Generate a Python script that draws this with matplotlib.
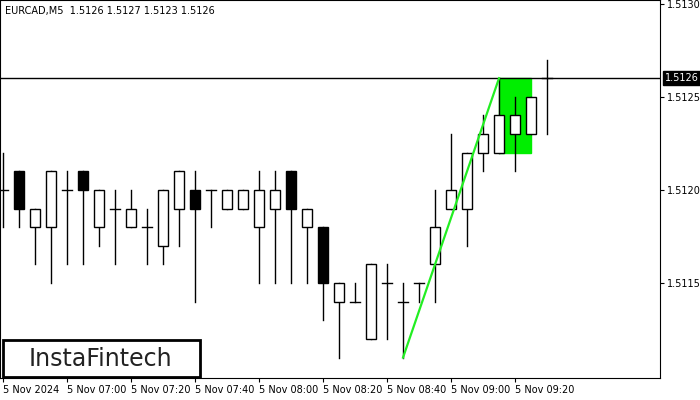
import matplotlib
matplotlib.use('Agg')
import matplotlib.pyplot as plt
from matplotlib.patches import Rectangle

# candles: open, high, low, close
opens  = [1.5120, 1.5121, 1.5118, 1.5118, 1.5120, 1.5121, 1.5118, 1.5119, 1.5118, 1.5118,
          1.5117, 1.5119, 1.5120, 1.5120, 1.5119, 1.5119, 1.5118, 1.5119, 1.5121, 1.5118,
          1.5118, 1.5114, 1.5114, 1.5112, 1.5115, 1.5114, 1.5115, 1.5116, 1.5119, 1.5119,
          1.5122, 1.5122, 1.5123, 1.5123, 1.5126]
highs  = [1.5122, 1.5121, 1.5119, 1.5121, 1.5121, 1.5121, 1.5120, 1.5120, 1.5120, 1.5119,
          1.5120, 1.5121, 1.5121, 1.5120, 1.5120, 1.5120, 1.5121, 1.5121, 1.5121, 1.5119,
          1.5118, 1.5115, 1.5115, 1.5116, 1.5116, 1.5115, 1.5115, 1.5120, 1.5123, 1.5122,
          1.5124, 1.5126, 1.5125, 1.5125, 1.5127]
lows   = [1.5118, 1.5118, 1.5116, 1.5115, 1.5116, 1.5116, 1.5117, 1.5116, 1.5118, 1.5116,
          1.5116, 1.5117, 1.5114, 1.5118, 1.5119, 1.5119, 1.5115, 1.5115, 1.5115, 1.5115,
          1.5113, 1.5111, 1.5114, 1.5112, 1.5112, 1.5111, 1.5114, 1.5114, 1.5119, 1.5117,
          1.5121, 1.5122, 1.5121, 1.5123, 1.5123]
closes = [1.5120, 1.5119, 1.5119, 1.5121, 1.5120, 1.5120, 1.5120, 1.5119, 1.5119, 1.5118,
          1.5120, 1.5121, 1.5119, 1.5120, 1.5120, 1.5120, 1.5120, 1.5120, 1.5119, 1.5119,
          1.5115, 1.5115, 1.5114, 1.5116, 1.5115, 1.5114, 1.5115, 1.5118, 1.5120, 1.5122,
          1.5123, 1.5124, 1.5124, 1.5125, 1.5126]
xlabels = ['5 Nov 2024', '5 Nov 07:00', '5 Nov 07:20', '5 Nov 07:40', '5 Nov 08:00',
           '5 Nov 08:20', '5 Nov 08:40', '5 Nov 09:00', '5 Nov 09:20']
yticks = [1.5115, 1.5120, 1.5125, 1.5130]
last_price = 1.5126
flag_pole = [(25, 1.5111), (31, 1.5126)]
flag_box = (31, 33, 1.5122, 1.5126)

fig = plt.figure(figsize=(7, 4), dpi=100)
ax = fig.add_axes([0, 0.055, 660 / 700, 0.945])
ax.set_xlim(-0.19, 41.06)
ax.set_ylim(1.51099, 1.51302)

x0, x1, b0, b1 = flag_box
ax.add_patch(Rectangle((x0, b0), x1 - x0, b1 - b0, color='#00ee00', zorder=1))
ax.axhline(last_price, color='black', lw=1, zorder=1)

w = 0.6
for i, (o, h, l, c) in enumerate(zip(opens, highs, lows, closes)):
    ax.plot([i, i], [l, h], color='black', lw=1, zorder=2)
    if o == c:
        ax.plot([i - w / 2, i + w / 2], [o, o], color='black', lw=1, zorder=3)
    else:
        face = 'white' if c > o else 'black'
        ax.add_patch(Rectangle((i - w / 2, min(o, c)), w, abs(c - o),
                               facecolor=face, edgecolor='black', lw=1, zorder=3))

ax.plot([p[0] for p in flag_pole], [p[1] for p in flag_pole], color='#22ee22', lw=1.6, zorder=4)

ax.set_xticks(range(0, 4 * len(xlabels), 4))
ax.set_xticklabels(xlabels, fontsize=7, ha='left')
ax.yaxis.tick_right()
ax.set_yticks(yticks)
ax.set_yticklabels([f'{v:.4f}' for v in yticks], fontsize=7)
ax.tick_params(length=3, pad=2)
ax.text(41.4, last_price, f'{last_price:.4f}', fontsize=7, color='white',
        va='center', ha='left', bbox=dict(facecolor='black', edgecolor='black', pad=1.5),
        clip_on=False)
ax.text(5 / 660, 0.985, 'EURCAD,M5  1.5126 1.5127 1.5123 1.5126', transform=ax.transAxes,
        fontsize=7, va='top', ha='left')

ax.add_patch(Rectangle((3 / 660, 0.003), 197 / 660, 37 / 378, transform=ax.transAxes,
                       facecolor='white', edgecolor='black', lw=2, zorder=5))
ax.text(100 / 660, 19 / 378, 'InstaFintech', transform=ax.transAxes, fontsize=17,
        ha='center', va='center', color='#222222', zorder=6)

fig.savefig('out.png', dpi=100)
